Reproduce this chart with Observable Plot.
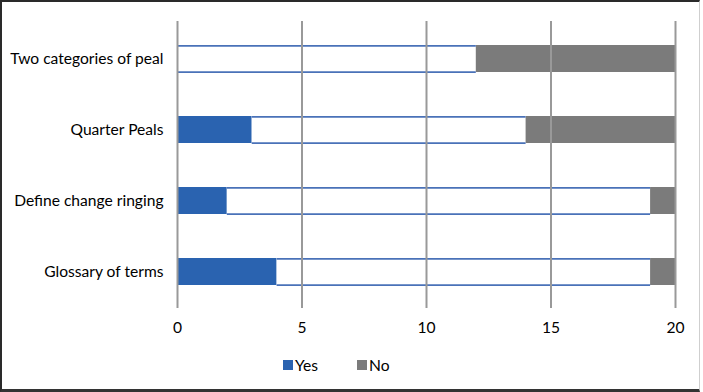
<!DOCTYPE html>
<html>
<head>
<meta charset="utf-8">
<script src="https://cdn.jsdelivr.net/npm/d3@7"></script>
<script src="https://cdn.jsdelivr.net/npm/@observablehq/plot@0.6"></script>
<style>
  html, body { margin: 0; padding: 0; background: #fff; }
  #wrap { position: relative; width: 703px; height: 392px; overflow: hidden; font-family: Lato, "Noto Sans", sans-serif; }
  #frame { position: absolute; left: 0; top: 0; width: 700px; height: 392px; border-top: 2px solid #2a2a2a; border-left: 2px solid #2a2a2a; border-bottom: 3px solid #333; border-right: 1px solid #cfcfcf; box-sizing: border-box; pointer-events: none; }
  #legend { position: absolute; top: 355px; left: 0; width: 703px; height: 20px; font-size: 15.6px; color: #000; }
  .sw { position: absolute; top: 5px; width: 10px; height: 10px; }
  .lb { position: absolute; top: 0; line-height: 20px; }
</style>
</head>
<body>
<div id="wrap">
  <div id="chart"></div>
  <div id="legend"></div>
  <div id="frame"></div>
</div>
<script>
const categories = ["Two categories of peal", "Quarter Peals", "Define change ringing", "Glossary of terms"];
const yesValues = [0, 3, 2, 4];
const middleValues = [12, 11, 17, 15];
const noValues = [8, 6, 1, 1];
const xTicks = [0, 5, 10, 15, 20];
const legendItems = [{label: "Yes", color: "#2a63b0"}, {label: "No", color: "#7b7b7b"}];

const blue = "#2a63b0", gray = "#7b7b7b", outline = "#4a72b8";

const rows = categories.map((c, i) => ({
  cat: c,
  y0: 0,
  y1: yesValues[i],
  m1: yesValues[i] + middleValues[i],
  n1: yesValues[i] + middleValues[i] + noValues[i]
}));

const inset = 22;
const chart = Plot.plot({
  width: 703,
  height: 345,
  marginLeft: 177,
  marginRight: 28,
  marginTop: 21,
  marginBottom: 37,
  style: {fontFamily: "Lato, 'Noto Sans', sans-serif", fontSize: "15.6px", color: "#000", background: "#fff"},
  x: {domain: [0, 20], ticks: xTicks, label: null},
  y: {domain: categories, paddingInner: 0, paddingOuter: 0, label: null},
  marks: [
    Plot.barX(rows, {y: "cat", x1: "y0", x2: "y1", fill: blue, insetTop: inset, insetBottom: inset}),
    Plot.barX(rows, {y: "cat", x1: "y1", x2: "m1", fill: "#fff", insetTop: inset, insetBottom: inset}),
    Plot.barX(rows, {y: "cat", x1: "m1", x2: "n1", fill: gray, insetTop: inset, insetBottom: inset}),
    Plot.ruleY(rows, {y: "cat", x1: "y1", x2: "m1", dy: -(71.75/2 - inset) + 0.75, stroke: outline, strokeWidth: 1.8}),
    Plot.ruleY(rows, {y: "cat", x1: "y1", x2: "m1", dy: (71.75/2 - inset) - 0.75, stroke: outline, strokeWidth: 1.8}),
    Plot.ruleX(xTicks, {x: d => d, stroke: "#999", strokeWidth: 2}),
    Plot.axisX({ticks: xTicks, tickSize: 0, tickPadding: 13, label: null, fontSize: 15.6}),
    Plot.axisY({tickSize: 0, tickPadding: 14, label: null, fontSize: 15.6})
  ]
});
document.getElementById("chart").appendChild(chart);

const legend = document.getElementById("legend");
const positions = [{sw: 283, lb: 295}, {sw: 357, lb: 369}];
legendItems.forEach((it, i) => {
  const s = document.createElement("div");
  s.className = "sw"; s.style.left = positions[i].sw + "px"; s.style.background = it.color;
  const l = document.createElement("div");
  l.className = "lb"; l.style.left = positions[i].lb + "px"; l.textContent = it.label;
  legend.appendChild(s); legend.appendChild(l);
});
</script>
</body>
</html>
